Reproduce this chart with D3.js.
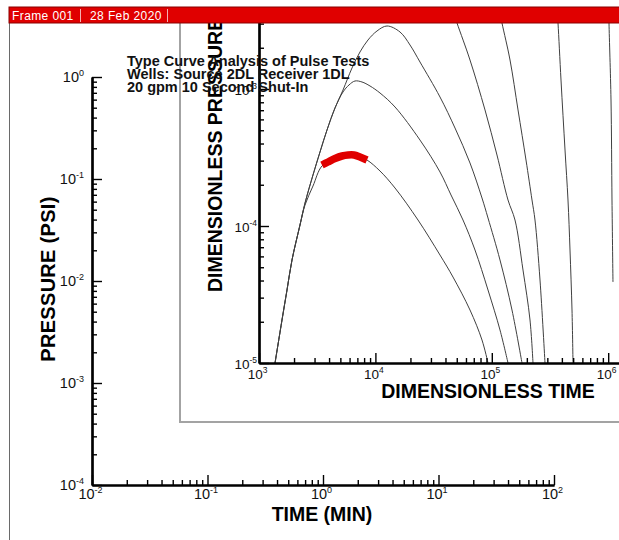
<!DOCTYPE html>
<html><head><meta charset="utf-8">
<script src="https://cdn.jsdelivr.net/npm/d3@7"></script>
<style>
html,body{margin:0;padding:0;background:#fff;}
svg{display:block;font-family:"Liberation Sans",Arial,Helvetica,sans-serif;}
</style></head><body>
<svg id="chart" width="619" height="540"></svg>
<script>
// ---------- data ----------
const frameLabel = "Frame 001";
const dateLabel = "28 Feb 2020";
const titleLines = ["Type Curve Analysis of Pulse Tests", "Wells: Source 2DL Receiver 1DL", "20 gpm 10 Second Shut-In"];
const outerXTitle = "TIME (MIN)";
const outerYTitle = "PRESSURE (PSI)";
const innerXTitle = "DIMENSIONLESS TIME";
const innerYTitle = "DIMENSIONLESS PRESSURE";

const outerXExponents = [-2, -1, 0, 1, 2];
const outerYExponents = [-4, -3, -2, -1, 0];
const innerXExponents = [3, 4, 5, 6];
const innerYExponents = [-5, -4, -3];

// type curves: [dimensionless time, dimensionless pressure]
const curveA = [[1.373e3,1.0e-5],[1.576e3,2.06e-5],[1.740e3,3.41e-5],[1.921e3,5.65e-5],[2.250e3,1.017e-4],[2.485e3,1.47e-4],[2.910e3,2.357e-4],[3.343e3,3.47e-4],[3.839e3,5.02e-4],[4.497e3,7.27e-4],[5.268e3,9.83e-4],
  [6.295e3,1.423e-3],[7.373e3,1.863e-3],[8.638e3,2.279e-3],[1.032e4,2.651e-3],[1.258e4,2.884e-3],[1.627e4,2.607e-3],[1.983e4,2.095e-3],[2.416e4,1.574e-3],[3.589e4,8.74e-4],[4.83e4,5.19e-4],[6.496e4,2.884e-4],[8.236e4,1.601e-4],[9.277e4,1.144e-4],[1.176e5,5.65e-5],[1.491e5,2.437e-5],[1.817e5,1.0e-5]];
const curveB = [[1.373e3,1.0e-5],[1.576e3,2.06e-5],[1.740e3,3.41e-5],[1.921e3,5.65e-5],[2.250e3,1.017e-4],[2.485e3,1.47e-4],[2.910e3,2.357e-4],[3.343e3,3.47e-4],[3.839e3,5.02e-4],[4.497e3,7.27e-4],
  [5.268e3,9.51e-4],[5.932e3,1.07e-3],[6.678e3,1.144e-3],[7.671e3,1.125e-3],[8.987e3,1.052e-3],[1.095e4,9.35e-4],[1.474e4,7.39e-4],[2.416e4,4.24e-4],[3.589e4,2.479e-4],[4.462e4,1.684e-4],[5.656e4,1.106e-4],[7.172e4,6.68e-5],[9.277e4,3.41e-5],[1.176e5,1.742e-5],[1.378e5,1.0e-5]];
const curveC = [[1.373e3,1.0e-5],[1.576e3,2.06e-5],[1.740e3,3.41e-5],[1.921e3,5.65e-5],[2.250e3,1.017e-4],
  [2.485e3,1.423e-4],[2.910e3,1.959e-4],[3.477e3,2.742e-4],[4.497e3,3.109e-4],[5.816e3,3.298e-4],[7.373e3,3.189e-4],[8.472e3,3.032e-4],[1.095e4,2.521e-4],[1.474e4,1.894e-4],[2.323e4,1.106e-4],[3.589e4,6.14e-5],[4.642e4,4.24e-5],[6.496e4,2.437e-5],[8.236e4,1.472e-5],[9.277e4,1.0e-5]];
const curveT1 = [[4.55e4,3.90e-3],[5.023e4,3.033e-3],[6.496e4,1.628e-3],[8.742e4,7.03e-4],[1.108e5,3.298e-4],[1.378e5,1.548e-4],[1.582e5,1.106e-4],[1.854e5,4.77e-5],[2.129e5,2.06e-5],[2.259e5,1.0e-5]];
const curveT2 = [[1.153e5,3.90e-3],[1.223e5,3.033e-3],[1.434e5,1.628e-3],[1.680e5,7.03e-4],[1.967e5,3.032e-4],[2.215e5,1.548e-4],[2.350e5,1.106e-4],[2.595e5,4.035e-5],[2.864e5,1.0e-5]];
const curveT3 = [[3.632e5,3.90e-3],[3.705e5,3.033e-3],[3.931e5,1.163e-3],[4.256e5,3.586e-4],[4.514e5,1.548e-4],[4.697e5,6.68e-5],[4.887e5,2.437e-5],[4.985e5,1.0e-5]];
const curveT4 = [[1.012e6,3.90e-3],[1.016e6,3.033e-3],[1.057e6,8.31e-4],[1.078e6,1.548e-4],[1.099e6,3.90e-5]];
// field data (red)
const observed = [[3.477e3,2.788e-4],[3.915e3,2.932e-4],[4.497e3,3.109e-4],[5.166e3,3.243e-4],[5.816e3,3.298e-4],[6.549e3,3.298e-4],[7.373e3,3.189e-4],[8.472e3,3.032e-4]];

const typeCurves = [curveA, curveB, curveC, curveT1, curveT2, curveT3, curveT4];

// ---------- drawing ----------
const svg = d3.select("#chart");
const FONT = '"Liberation Sans",Arial,Helvetica,sans-serif';

// scales
const outerX = d3.scaleLog().domain([1e-2, 1e2]).range([92, 554]);
const outerY = d3.scaleLog().domain([1e-4, 1]).range([485, 77]);
const innerX = d3.scaleLog().domain([1e3, 1e7]).range([259, 724.6]);
const innerY = d3.scaleLog().domain([1e-5, 1e-2]).range([363, -48]);

function majors(exps) { return exps.map(e => Math.pow(10, e)); }
function minors(exps, extra) {
  const out = [];
  const list = exps.concat(extra || []);
  list.forEach(e => { for (let m = 2; m <= 9; m++) out.push(m * Math.pow(10, e)); });
  return out;
}
function supLabels(g, fs, sfs, rise) {
  g.selectAll(".tick text").each(function(d) {
    const e = Math.round(Math.log10(d));
    const t = d3.select(this).text(null).attr("font-size", fs).attr("font-family", FONT).attr("fill", "#111");
    t.append("tspan").text("10");
    t.append("tspan").attr("dy", -rise).attr("font-size", sfs).text(String(e));
  });
}
function styleAxis(g, dw) {
  g.select(".domain").attr("stroke", "#000").attr("stroke-width", dw);
  g.selectAll(".tick line").attr("stroke", "#000").attr("stroke-width", 1.4);
}

// outer frame left border
svg.append("line").attr("x1", 9.5).attr("x2", 9.5).attr("y1", 22).attr("y2", 540)
  .attr("stroke", "#6a6a6a").attr("stroke-width", 1);

// ---- outer axes ----
const oy = svg.append("g").attr("transform", "translate(92,0)");
oy.call(d3.axisLeft(outerY).tickValues(minors(outerYExponents.slice(0, 4))).tickSizeInner(-5).tickSizeOuter(0).tickFormat(""));
styleAxis(oy, 2.2);
const oyM = svg.append("g").attr("transform", "translate(92,0)");
oyM.call(d3.axisLeft(outerY).tickValues(majors(outerYExponents)).tickSizeInner(-10).tickSizeOuter(0).tickPadding(8));
styleAxis(oyM, 2.2);
supLabels(oyM, 14.5, 9, 6);

const ox = svg.append("g").attr("transform", "translate(0,485)");
ox.call(d3.axisBottom(outerX).tickValues(minors(outerXExponents.slice(0, 4))).tickSizeInner(-5).tickSizeOuter(0).tickFormat(""));
styleAxis(ox, 2.2);
const oxM = svg.append("g").attr("transform", "translate(0,485)");
oxM.call(d3.axisBottom(outerX).tickValues(majors(outerXExponents)).tickSizeInner(-10).tickSizeOuter(0).tickPadding(4));
styleAxis(oxM, 2.2);
supLabels(oxM, 14.5, 9, 6);
oxM.selectAll(".tick text").attr("dx", -2);

svg.append("text").attr("x", 322).attr("y", 521).attr("text-anchor", "middle")
  .attr("font-size", 19.5).attr("font-weight", "bold").attr("font-family", FONT).text(outerXTitle);
svg.append("text").attr("transform", "translate(55,279) rotate(-90)").attr("text-anchor", "middle")
  .attr("font-size", 20).attr("font-weight", "bold").attr("letter-spacing", 0.3).attr("font-family", FONT).text(outerYTitle);

// ---- inner frame / plot ----
const defs = svg.append("defs");
defs.append("clipPath").attr("id", "innerClip").append("rect").attr("x", 179).attr("y", 7).attr("width", 440).attr("height", 416);
defs.append("clipPath").attr("id", "plotClip").append("rect").attr("x", 259).attr("y", 0).attr("width", 360).attr("height", 363);

const inner = svg.append("g").attr("clip-path", "url(#innerClip)");
inner.append("rect").attr("x", 180).attr("y", 0).attr("width", 460).attr("height", 422)
  .attr("fill", "#fff").attr("stroke", "#a3a3a3").attr("stroke-width", 2);

// type curves
const line = d3.line().x(d => innerX(d[0])).y(d => innerY(d[1])).curve(d3.curveCatmullRom.alpha(0.5));
const plot = inner.append("g").attr("clip-path", "url(#plotClip)");
plot.selectAll("path.tc").data(typeCurves).join("path").attr("class", "tc")
  .attr("d", line).attr("fill", "none").attr("stroke", "#404040").attr("stroke-width", 1);
plot.append("path").datum(observed).attr("d", line).attr("fill", "none")
  .attr("stroke", "#e00000").attr("stroke-width", 7.5).attr("stroke-linecap", "butt");

// inner axes
const iy = inner.append("g").attr("transform", "translate(259,0)");
iy.call(d3.axisLeft(innerY).tickValues(minors(innerYExponents)).tickSizeInner(-5).tickSizeOuter(0).tickFormat(""));
styleAxis(iy, 2.2);
const iyM = inner.append("g").attr("transform", "translate(259,0)");
iyM.call(d3.axisLeft(innerY).tickValues(majors(innerYExponents)).tickSizeInner(-10).tickSizeOuter(0).tickPadding(2));
styleAxis(iyM, 2.2);
supLabels(iyM, 13.5, 8.5, 6);
iyM.selectAll(".tick text").attr("dy", "0.38em");

const ix = inner.append("g").attr("transform", "translate(0,363)");
ix.call(d3.axisBottom(innerX).tickValues(minors(innerXExponents)).tickSizeInner(-5).tickSizeOuter(0).tickFormat(""));
styleAxis(ix, 2.2);
const ixM = inner.append("g").attr("transform", "translate(0,363)");
ixM.call(d3.axisBottom(innerX).tickValues(majors(innerXExponents)).tickSizeInner(-10).tickSizeOuter(0).tickPadding(6));
styleAxis(ixM, 2.2);
supLabels(ixM, 13.5, 8.5, 6);
ixM.selectAll(".tick text").attr("dx", -2);

inner.append("text").attr("x", 488).attr("y", 398).attr("text-anchor", "middle")
  .attr("font-size", 19.5).attr("font-weight", "bold").attr("font-family", FONT).text(innerXTitle);
inner.append("text").attr("transform", "translate(222,292) rotate(-90)").attr("text-anchor", "start")
  .attr("font-size", 19.5).attr("font-weight", "bold").attr("font-family", FONT).text(innerYTitle);

// ---- title ----
const title = svg.append("g");
titleLines.forEach((s, i) => {
  title.append("text").attr("x", 127).attr("y", 66 + i * 13).attr("font-size", 14.5)
    .attr("font-weight", "bold").attr("font-family", FONT).attr("fill", "#111").text(s);
});

// ---- header bar ----
svg.append("rect").attr("x", 9).attr("y", 7).attr("width", 612).attr("height", 16)
  .attr("fill", "#e00000").attr("stroke", "#8a0000").attr("stroke-width", 1);
svg.append("text").attr("x", 12).attr("y", 19.5).attr("font-size", 12).attr("fill", "#fff")
  .attr("font-family", FONT).attr("letter-spacing", 0.4).text(frameLabel);
svg.append("text").attr("x", 90).attr("y", 19.5).attr("font-size", 12).attr("fill", "#fff")
  .attr("font-family", FONT).attr("letter-spacing", 0.4).text(dateLabel);
[80.5, 167.5].forEach(x => svg.append("line").attr("x1", x).attr("x2", x).attr("y1", 9).attr("y2", 22)
  .attr("stroke", "#f4b0b0").attr("stroke-width", 1));
</script>
</body></html>
